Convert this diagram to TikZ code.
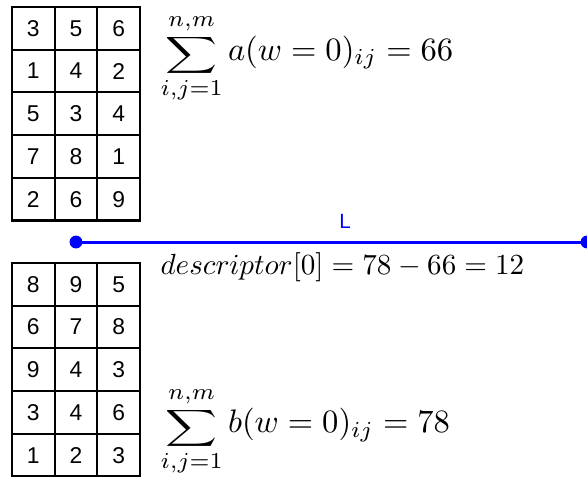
\documentclass[tikz,border=0pt]{standalone}
\usepackage{fix-cm}
\usepackage{exscale}
\usepackage{graphicx}
\usepackage{fontspec}
\newfontfamily\cellfont{Liberation Sans}
\usetikzlibrary{positioning}
\definecolor{lineblue}{RGB}{0,0,255}
\newcommand{\wsum}{\mathop{\raisebox{-0.6pt}{\scalebox{1.15}[0.82]{$\displaystyle\sum$}}}\limits}

\begin{document}
\begin{tikzpicture}[
  x=0.35pt, y=-0.35pt,
  cell/.style={draw, line width=0.75pt, minimum size=14.95pt, inner sep=0pt, font=\cellfont\fontsize{8}{9}\selectfont},
  sumtxt/.style={anchor=base west, inner sep=0pt, font=\fontsize{11.4}{13}\selectfont},
  desctxt/.style={anchor=base west, inner sep=0pt, font=\fontsize{10.2}{12}\selectfont},
  seg/.style={draw=lineblue, line width=1.05pt},
  pt/.style={circle, fill=lineblue, inner sep=0pt, minimum size=4.5pt},
  lbl/.style={text=lineblue, font=\cellfont\fontsize{7.2}{8}\selectfont}
]
  \useasboundingbox (0,0) rectangle (587,477);

  % matrix a (top)
  \foreach \row [count=\i] in {{3,5,6},{1,4,2},{5,3,4},{7,8,1},{2,6,9}}
    \foreach \v [count=\j] in \row
      \node[cell] (a-\i-\j) at ({12+42.7*(\j-0.5)}, {7+42.7*(\i-0.5)}) {\v};

  % matrix b (bottom)
  \foreach \row [count=\i] in {{8,9,5},{6,7,8},{9,4,3},{3,4,6},{1,2,3}}
    \foreach \v [count=\j] in \row
      \node[cell] (b-\i-\j) at ({12+42.7*(\j-0.5)}, {263+42.7*(\i-0.5)}) {\v};

  \node[sumtxt] (suma) at (160,60) {$\wsum_{i,j=1}^{n,m} a(w=0)_{ij} = 66$};
  \node[sumtxt] (sumb) at (160,433) {$\wsum_{i,j=1}^{n,m} b(w=0)_{ij} = 78$};

  % segment L
  \node[pt] (p1) at (76,242) {};
  \node[pt] (p2) at (587,242) {};
  \draw[seg] (p1.center) -- (p2.center);
  \node[lbl] (L) at (345,221) {L};

  \node[desctxt] (desc) at (160,274) {$descriptor[0] = 78-66 = 12$};
\end{tikzpicture}
\end{document}
